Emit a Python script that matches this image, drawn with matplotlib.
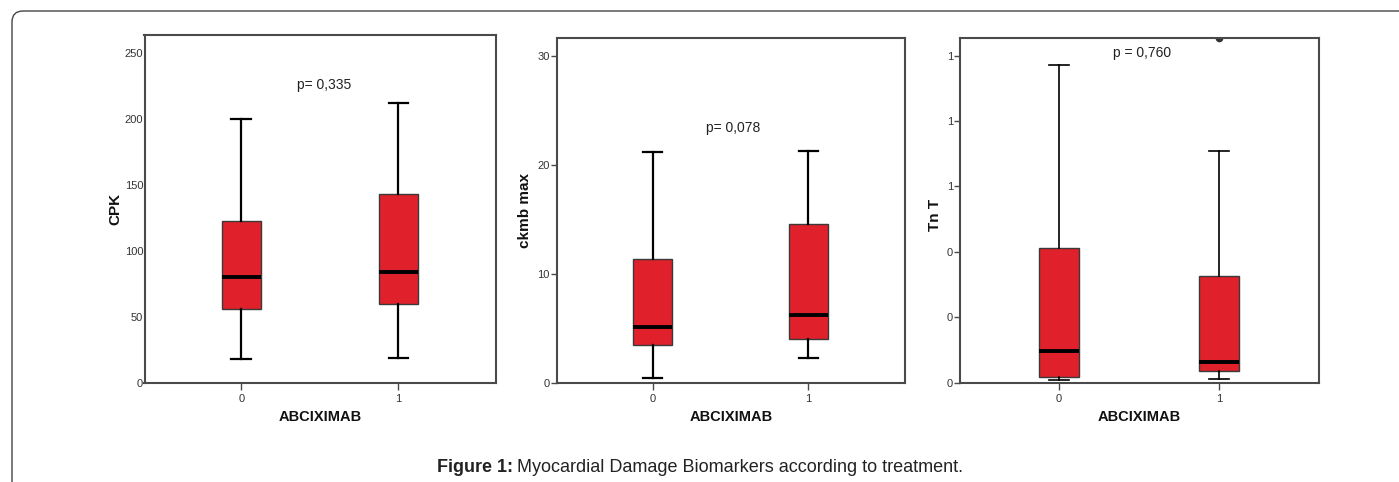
import matplotlib
matplotlib.use("Agg")
import matplotlib.pyplot as plt
from matplotlib.patches import FancyBboxPatch
from matplotlib.transforms import IdentityTransform
from matplotlib.ticker import FormatStrFormatter

plt.rcParams['font.family'] = ['Liberation Sans', 'DejaVu Sans']

# ---- data ----
groups = ["0", "1"]
xlabel = "ABCIXIMAB"

cpk_whislo = [18, 19]
cpk_q1 = [56, 60]
cpk_med = [80, 84]
cpk_q3 = [123, 143]
cpk_whishi = [200, 212]
cpk_fliers = [[], []]
cpk_ticks = [0, 50, 100, 150, 200, 250]
cpk_p = "p= 0,335"

ckmb_whislo = [0.5, 2.3]
ckmb_q1 = [3.5, 4.1]
ckmb_med = [5.15, 6.3]
ckmb_q3 = [11.35, 14.6]
ckmb_whishi = [21.2, 21.25]
ckmb_fliers = [[], []]
ckmb_ticks = [0, 10, 20, 30]
ckmb_p = "p= 0,078"

tnt_whislo = [0.009, 0.010]
tnt_q1 = [0.017, 0.037]
tnt_med = [0.097, 0.063]
tnt_q3 = [0.413, 0.326]
tnt_whishi = [0.971, 0.709]
tnt_fliers = [[], [1.053]]
tnt_ticks = [0.0, 0.2, 0.4, 0.6, 0.8, 1.0]
tnt_p = "p = 0,760"

caption_bold = "Figure 1:"
caption_rest = "Myocardial Damage Biomarkers according to treatment."

W, H = 1399, 482
fig = plt.figure(figsize=(W / 100, H / 100), dpi=100)

# outer rounded frame (pixel coordinates, clipped at right/bottom)
frame = FancyBboxPatch((12, -40), W + 60, (H - 11) + 40,
                       boxstyle="round,pad=0,rounding_size=11",
                       transform=IdentityTransform(), fill=False,
                       edgecolor="#444444", linewidth=1.0)
fig.patches.append(frame)


def px_axes(l, r, t, b):
    return fig.add_axes([l / W, 1 - b / H, (r - l) / W, (b - t) / H])


RED = "#e0202a"
SPINE = "#4a4a4a"


def panel(ax, whislo, q1, med, q3, whishi, fliers, ticks, ylim, ylabel, ptxt, pxy,
          ytick_len, ylab_xy, whisk_lw=1.6, fmt=None):
    stats = []
    for i in range(len(groups)):
        stats.append(dict(whislo=whislo[i], q1=q1[i], med=med[i], q3=q3[i],
                          whishi=whishi[i], fliers=fliers[i], label=groups[i]))
    res = ax.bxp(stats, positions=range(len(groups)), widths=0.25, patch_artist=True,
                 boxprops=dict(facecolor=RED, edgecolor="#3a3a3a", linewidth=1.0),
                 medianprops=dict(color="black", linewidth=2.8),
                 whiskerprops=dict(color="black", linewidth=whisk_lw),
                 capprops=dict(color="black", linewidth=whisk_lw),
                 flierprops=dict(marker="o", markersize=4.5, markerfacecolor="#333333",
                                 markeredgecolor="#333333", markeredgewidth=1.0),
                 capwidths=0.125)
    for fl in res["fliers"]:
        fl.set_clip_on(True)
    ax.set_xlim(-0.615, 1.62)
    ax.set_ylim(*ylim)
    ax.set_yticks(ticks)
    if fmt:
        ax.yaxis.set_major_formatter(FormatStrFormatter(fmt))
    ax.set_xticks(range(len(groups)))
    ax.set_xticklabels(groups)
    for s in ax.spines.values():
        s.set_color(SPINE)
        s.set_linewidth(1.5)
        s.set_zorder(5)
    ax.tick_params(axis="y", length=ytick_len, width=1.0, color=SPINE,
                   labelsize=8, labelcolor="#333333", pad=1)
    ax.tick_params(axis="x", length=5, width=1.0, color=SPINE,
                   labelsize=8, labelcolor="#333333", pad=3)
    ax.set_ylabel(ylabel, fontsize=11, fontweight="bold", color="#111111")
    ax.yaxis.set_label_coords(*ylab_xy)
    ax.yaxis.label.set_va("center")
    ax.set_xlabel(xlabel, fontsize=10.5, fontweight="bold", color="#111111")
    ax.xaxis.label.set_va("center")
    ax.text(pxy[0], pxy[1], ptxt, fontsize=10, color="#222222",
            ha="center", va="center")


ax1 = px_axes(144.5, 496, 35, 382.7)
panel(ax1, cpk_whislo, cpk_q1, cpk_med, cpk_q3, cpk_whishi, cpk_fliers, cpk_ticks,
      (0, 264), "CPK", cpk_p, (0.53, 226), 0, (-0.084, 0.5))
ax1.xaxis.set_label_coords(0.5, (382.7 - 416.7) / 347.7)

ax2 = px_axes(556.7, 905, 38.3, 383.3)
panel(ax2, ckmb_whislo, ckmb_q1, ckmb_med, ckmb_q3, ckmb_whishi, ckmb_fliers, ckmb_ticks,
      (0, 31.6), "ckmb max", ckmb_p, (0.515, 23.4), 4, (-0.091, 0.502))
ax2.xaxis.set_label_coords(0.5, (383.3 - 416.7) / 345)

ax3 = px_axes(960, 1319, 38.3, 382.7)
panel(ax3, tnt_whislo, tnt_q1, tnt_med, tnt_q3, tnt_whishi, tnt_fliers, tnt_ticks,
      (0, 1.053), "Tn T", tnt_p, (0.52, 1.007), 4, (-0.0696, 0.487),
      whisk_lw=1.2, fmt="%.0f")
ax3.xaxis.set_label_coords(0.5, (382.7 - 416.7) / 344.4)

# caption
cap_y = 1 - 468 / H
t1 = fig.text(437 / W, cap_y, caption_bold, fontsize=13, fontweight="bold",
              ha="left", va="center", color="#222222")
fig.canvas.draw()
bb = t1.get_window_extent()
fig.text((bb.x1 + 4) / W, cap_y, caption_rest,
         fontsize=13, ha="left", va="center", color="#222222")

fig.savefig("out.png", dpi=100)
